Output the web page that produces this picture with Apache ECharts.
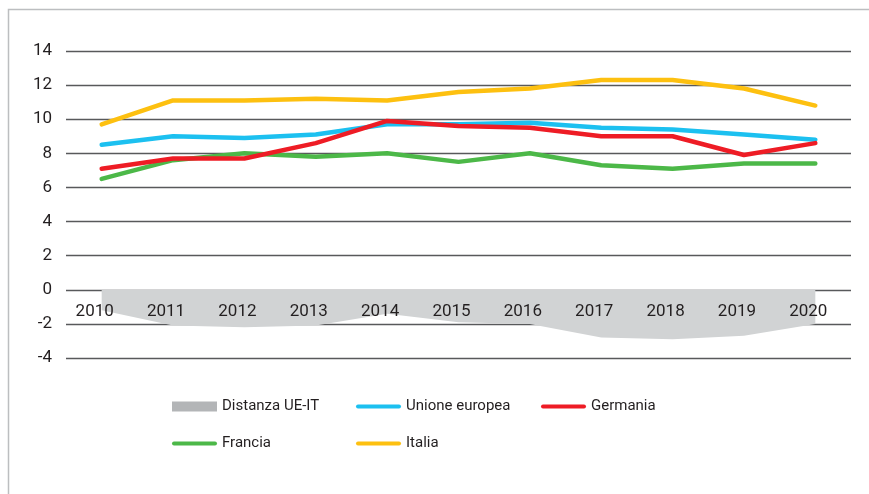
<!DOCTYPE html>
<html>
<head>
<meta charset="utf-8">
<script src="https://cdn.jsdelivr.net/npm/echarts@6/dist/echarts.min.js"></script>
<style>
  html, body { margin: 0; padding: 0; background: #ffffff; }
  #chart { width: 869px; height: 494px; }
</style>
</head>
<body>
<div id="chart"></div>
<script>
// Anni
var years = ['2010', '2011', '2012', '2013', '2014', '2015', '2016', '2017', '2018', '2019', '2020'];

// Valori per paese
var unioneEuropea = [8.5, 9.0, 8.9, 9.1, 9.7, 9.7, 9.8, 9.5, 9.4, 9.1, 8.8];
var germania      = [7.1, 7.7, 7.7, 8.6, 9.9, 9.6, 9.5, 9.0, 9.0, 7.9, 8.6];
var francia       = [6.5, 7.6, 8.0, 7.8, 8.0, 7.5, 8.0, 7.3, 7.1, 7.4, 7.4];
var italia        = [9.7, 11.1, 11.1, 11.2, 11.1, 11.6, 11.8, 12.3, 12.3, 11.8, 10.8];

// Distanza UE-IT (UE meno Italia)
var distanza      = [-1.2, -2.1, -2.2, -2.1, -1.4, -1.9, -2.0, -2.8, -2.9, -2.7, -2.0];

// Tacche dell'asse verticale
var yMin = -4, yMax = 14, yStep = 2;

var FONT = "Roboto, 'Liberation Sans', sans-serif";
var TEXT = '#231f20';

var colors = {
  'Distanza UE-IT': '#d1d3d4',
  'Unione europea': '#1cc0f0',
  'Germania': '#ee1c25',
  'Francia': '#4cb848',
  'Italia': '#fdc010'
};

var barIcon = 'path://M2,0 L43,0 A2,2 0 0 1 43,4 L2,4 A2,2 0 0 1 2,0 Z';

function legendItem(name, left, top, isArea) {
  return {
    data: [{
      name: name,
      icon: isArea ? 'rect' : barIcon,
      itemStyle: { color: isArea ? '#b3b5b7' : colors[name], borderWidth: 0 }
    }],
    left: left,
    top: top,
    itemWidth: 45,
    itemHeight: 10,
    selectedMode: false,
    textStyle: { fontFamily: FONT, fontSize: 15, color: TEXT }
  };
}

function lineSeries(name, values) {
  return {
    name: name,
    type: 'line',
    data: values,
    showSymbol: false,
    symbol: 'none',
    lineStyle: { width: 4.5, color: colors[name], cap: 'round', join: 'round' },
    itemStyle: { color: colors[name] },
    z: 3
  };
}

var gridTop = 51, gridBottom = 136, chartHeight = 494;
// the category axis sits on the zero line of the value axis
var plotH = chartHeight - gridTop - gridBottom;
var zeroOffset = -plotH * (0 - yMin) / (yMax - yMin);

var chart = echarts.init(document.getElementById('chart'), null, { renderer: 'canvas' });

chart.setOption({
  animation: false,
  backgroundColor: '#ffffff',
  grid: { left: 66, right: 18, top: gridTop, bottom: gridBottom },
  graphic: [{
    type: 'polyline',
    shape: { points: [[8.5, 494], [8.5, 9.5], [869, 9.5]] },
    style: { stroke: '#bcbec0', lineWidth: 1.5, fill: null },
    silent: true
  }],
  legend: [
    legendItem('Distanza UE-IT', 167, 394, true),
    legendItem('Unione europea', 351, 394, false),
    legendItem('Germania', 536, 394, false),
    legendItem('Francia', 167, 431, false),
    legendItem('Italia', 351, 431, false)
  ],
  xAxis: {
    type: 'category',
    data: years,
    boundaryGap: true,
    position: 'bottom',
    offset: zeroOffset,
    z: 10,
    axisLine: { show: false, onZero: false },
    axisTick: { show: false },
    splitLine: { show: false },
    axisLabel: {
      fontFamily: FONT,
      fontSize: 17,
      color: TEXT,
      margin: 13,
      interval: 0,
      padding: [0, 14, 0, 0]
    }
  },
  yAxis: {
    type: 'value',
    min: yMin,
    max: yMax,
    interval: yStep,
    axisLine: { show: false },
    axisTick: { show: false },
    axisLabel: {
      fontFamily: FONT,
      fontSize: 17,
      color: TEXT,
      margin: 14
    },
    splitLine: { show: true, lineStyle: { color: '#58595b', width: 1.3 } }
  },
  series: [
    {
      name: 'Distanza UE-IT',
      type: 'line',
      data: distanza,
      showSymbol: false,
      symbol: 'none',
      lineStyle: { width: 0 },
      itemStyle: { color: colors['Distanza UE-IT'] },
      areaStyle: { color: colors['Distanza UE-IT'], opacity: 1 },
      z: 2
    },
    lineSeries('Unione europea', unioneEuropea),
    lineSeries('Francia', francia),
    lineSeries('Germania', germania),
    lineSeries('Italia', italia)
  ]
});
</script>
</body>
</html>
